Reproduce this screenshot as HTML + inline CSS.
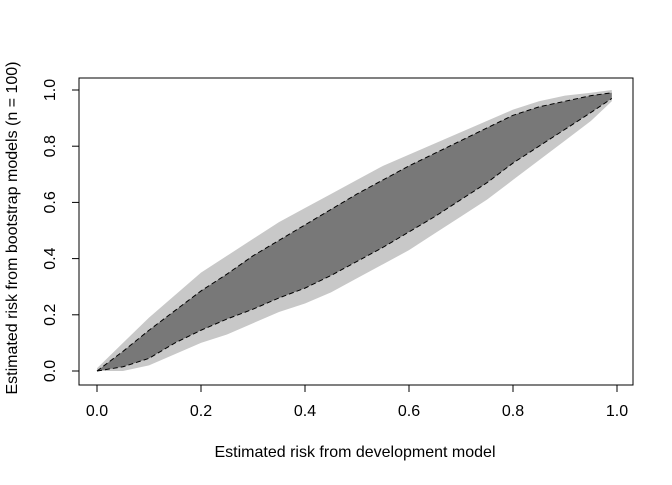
<!DOCTYPE html>
<html><head><meta charset="utf-8"><style>
body{margin:0;background:#fff;}
svg text{font-family:"Liberation Sans",Arial,sans-serif;font-size:16px;fill:#000;}
</style></head><body>
<svg id="chart" width="672" height="480" xmlns="http://www.w3.org/2000/svg">
<g id="cloud"></g>
<g id="curves"></g>
<rect x="79" y="78" width="554" height="307" fill="none" stroke="#000" stroke-width="1"/>
<g id="axes"></g>
<text x="355" y="457" text-anchor="middle">Estimated risk from development model</text>
<text transform="translate(17,228) rotate(-90)" text-anchor="middle">Estimated risk from bootstrap models (n = 100)</text>
</svg>
<script>
const xs = [0,0.05,0.1,0.15,0.2,0.25,0.3,0.35,0.4,0.45,0.5,0.55,0.6,0.65,0.7,0.75,0.8,0.85,0.9,0.95,0.99];
const upperCurve = [0,0.07,0.145,0.215,0.285,0.345,0.41,0.465,0.52,0.575,0.63,0.68,0.73,0.775,0.82,0.865,0.91,0.94,0.96,0.98,0.99];
const lowerCurve = [0,0.015,0.045,0.1,0.145,0.185,0.22,0.26,0.295,0.34,0.39,0.44,0.495,0.55,0.61,0.67,0.74,0.8,0.86,0.92,0.97];
const upperOuter = [0.01,0.1,0.19,0.27,0.35,0.41,0.47,0.53,0.58,0.63,0.68,0.73,0.77,0.81,0.85,0.89,0.93,0.96,0.98,0.99,1.0];
const lowerOuter = [0,0.0,0.02,0.06,0.1,0.13,0.17,0.21,0.24,0.28,0.33,0.38,0.43,0.49,0.55,0.61,0.68,0.75,0.82,0.89,0.96];
const ticks = [0,0.2,0.4,0.6,0.8,1.0];
const tickLabels = ["0.0","0.2","0.4","0.6","0.8","1.0"];
const sx = v => 97 + 520*v;
const sy = v => 371 - 281*v;
const NS="http://www.w3.org/2000/svg";
function band(lo,hi,fill,name,parent){
  let d="M"+xs.map((x,i)=>sx(x)+","+sy(hi[i])).join("L");
  for(let i=xs.length-1;i>=0;i--) d+="L"+sx(xs[i])+","+sy(lo[i]);
  const p=document.createElementNS(NS,"path");
  p.setAttribute("d",d+"Z");p.setAttribute("fill",fill);
  
  
  parent.appendChild(p);
}
const cloud=document.getElementById("cloud");
band(lowerOuter,upperOuter,"#c8c8c8","outer-cloud",cloud);
band(lowerCurve,upperCurve,"#787878","core-cloud",cloud);
const curves=document.getElementById("curves");
[upperCurve,lowerCurve].forEach((arr,k)=>{
  const p=document.createElementNS(NS,"path");
  p.setAttribute("d","M"+xs.map((x,i)=>sx(x)+","+sy(arr[i])).join("L"));
  p.setAttribute("fill","none");p.setAttribute("stroke","#000");p.setAttribute("stroke-dasharray","5,3");
  
  
  curves.appendChild(p);
});
const axes=document.getElementById("axes");
let xl=document.createElementNS(NS,"line");
xl.setAttribute("x1",sx(0));xl.setAttribute("x2",sx(1));xl.setAttribute("y1",385);xl.setAttribute("y2",385);xl.setAttribute("stroke","#000");


axes.appendChild(xl);
let yl=document.createElementNS(NS,"line");
yl.setAttribute("x1",79);yl.setAttribute("x2",79);yl.setAttribute("y1",sy(0));yl.setAttribute("y2",sy(1));yl.setAttribute("stroke","#000");


axes.appendChild(yl);
ticks.forEach((t,i)=>{
  let a=document.createElementNS(NS,"line");
  a.setAttribute("x1",sx(t));a.setAttribute("x2",sx(t));a.setAttribute("y1",385);a.setAttribute("y2",392);a.setAttribute("stroke","#000");
  
  
  axes.appendChild(a);
  let tx=document.createElementNS(NS,"text");
  tx.setAttribute("x",sx(t));tx.setAttribute("y",416);tx.setAttribute("text-anchor","middle");tx.textContent=tickLabels[i];
  
  
  axes.appendChild(tx);
  let b=document.createElementNS(NS,"line");
  b.setAttribute("x1",72);b.setAttribute("x2",79);b.setAttribute("y1",sy(t));b.setAttribute("y2",sy(t));b.setAttribute("stroke","#000");
  
  
  axes.appendChild(b);
  let ty=document.createElementNS(NS,"text");
  ty.setAttribute("transform","translate(55,"+sy(t)+") rotate(-90)");ty.setAttribute("text-anchor","middle");ty.textContent=tickLabels[i];
  
  
  axes.appendChild(ty);
});
</script>
</body></html>
